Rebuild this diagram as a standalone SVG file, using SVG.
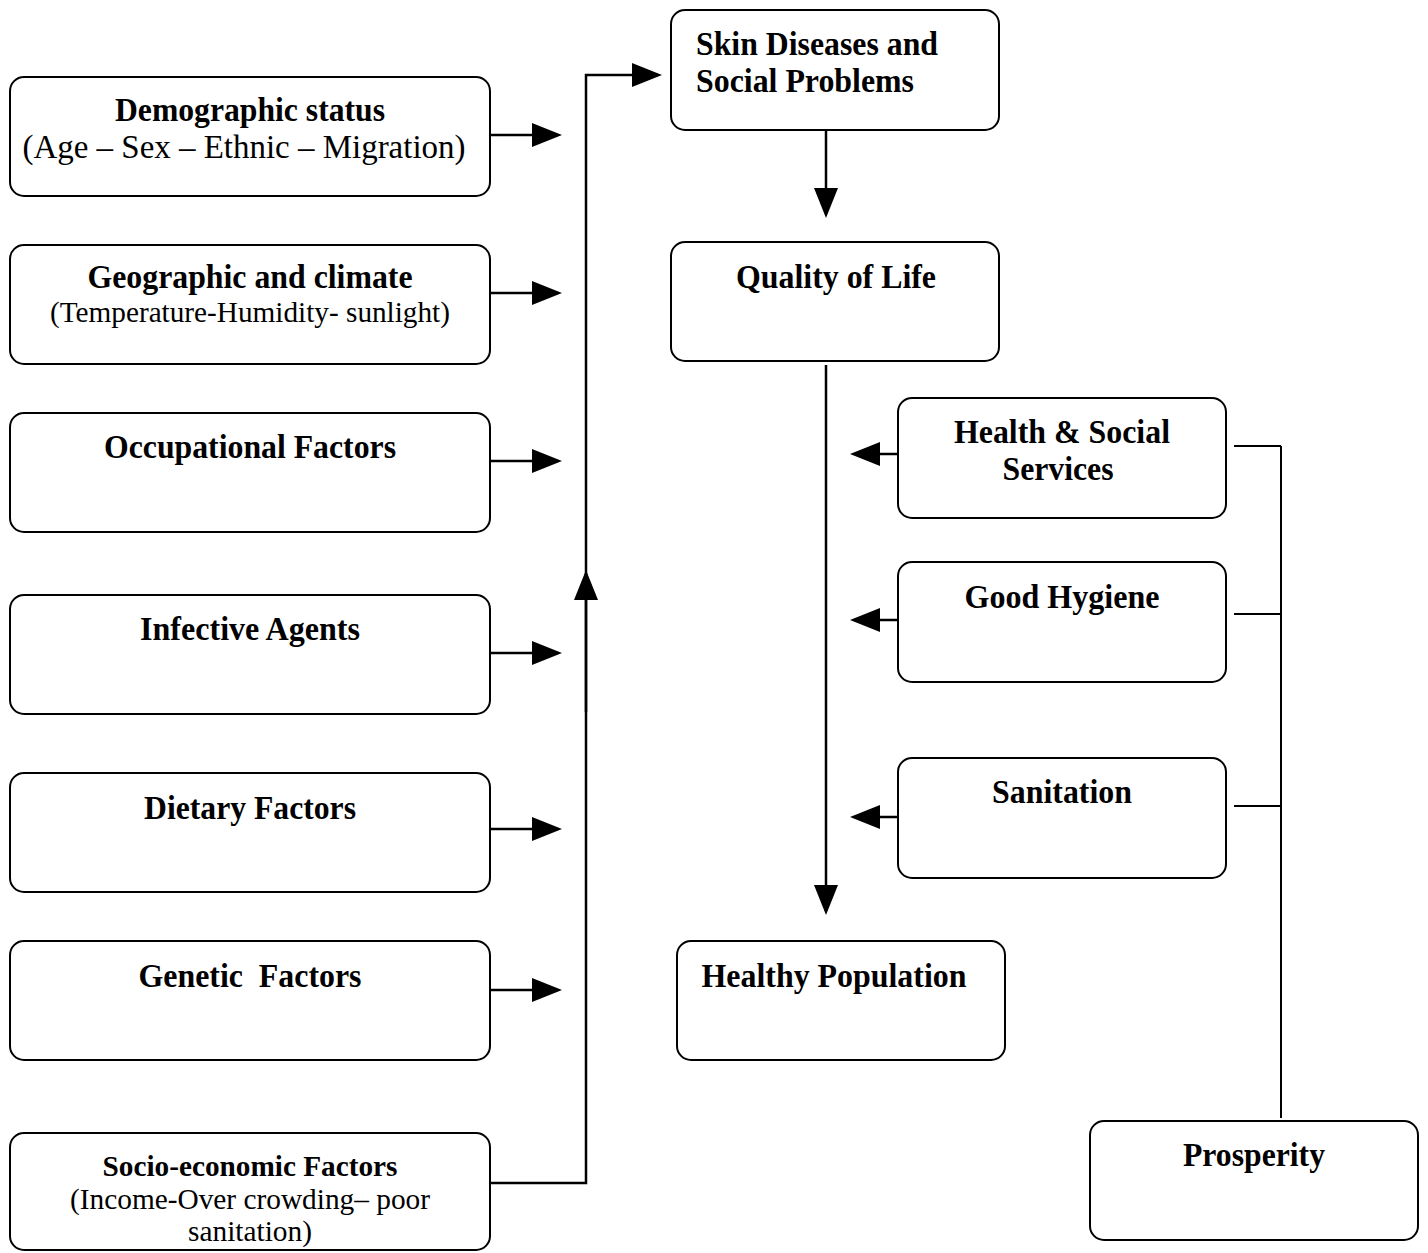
<svg xmlns="http://www.w3.org/2000/svg" width="1428" height="1253" viewBox="0 0 1428 1253">
<style>
.box{fill:#fff;stroke:#000;stroke-width:2}
.t{font-family:"Liberation Serif","Times New Roman",serif;font-weight:bold;font-size:34px;fill:#000}
.s{font-family:"Liberation Serif","Times New Roman",serif;font-size:33px;fill:#000}
.sm{font-size:30px}
.xs{font-size:29px}
.c{fill:none;stroke:#000;stroke-width:2.5}
.b{fill:none;stroke:#000;stroke-width:2}
</style>
<defs>
<marker id="ah" markerUnits="userSpaceOnUse" markerWidth="30" markerHeight="24" refX="26" refY="12" orient="auto">
<path d="M0,0 L30,12 L0,24 z" fill="#000"/>
</marker>
</defs>
<rect width="1428" height="1253" fill="#fff"/>
<g id="connectors">
<path class="c" d="M490,135 H558" marker-end="url(#ah)"/>
<path class="c" d="M490,293 H558" marker-end="url(#ah)"/>
<path class="c" d="M490,461 H558" marker-end="url(#ah)"/>
<path class="c" d="M490,653 H558" marker-end="url(#ah)"/>
<path class="c" d="M490,829 H558" marker-end="url(#ah)"/>
<path class="c" d="M490,990 H558" marker-end="url(#ah)"/>
<path class="c" d="M490,1183 H586 V75 H658" marker-end="url(#ah)"/>
<path class="c" d="M586,712 V574" marker-end="url(#ah)"/>
<path class="c" d="M826,130 V214" marker-end="url(#ah)"/>
<path class="c" d="M826,365 V911" marker-end="url(#ah)"/>
<path class="c" d="M898,454 H854" marker-end="url(#ah)"/>
<path class="c" d="M898,620 H854" marker-end="url(#ah)"/>
<path class="c" d="M898,817 H854" marker-end="url(#ah)"/>
<path class="b" d="M1234,446 H1281 M1234,614 H1281 M1234,806 H1281 M1281,446 V1118"/>
</g>
<g id="demographic">
<rect class="box" x="10" y="77" width="480" height="119" rx="14"/>
<text class="t" x="250" y="121" text-anchor="middle" textLength="270" lengthAdjust="spacingAndGlyphs">Demographic status</text>
<text class="s" x="244" y="158" text-anchor="middle" textLength="443" lengthAdjust="spacingAndGlyphs">(Age – Sex – Ethnic – Migration)</text>
</g>
<g id="geographic">
<rect class="box" x="10" y="245" width="480" height="119" rx="14"/>
<text class="t" x="250" y="288" text-anchor="middle" textLength="325" lengthAdjust="spacingAndGlyphs">Geographic and climate</text>
<text class="s xs" x="250" y="322" text-anchor="middle" textLength="400" lengthAdjust="spacingAndGlyphs">(Temperature-Humidity- sunlight)</text>
</g>
<g id="occupational">
<rect class="box" x="10" y="413" width="480" height="119" rx="14"/>
<text class="t" x="250" y="458" text-anchor="middle" textLength="292" lengthAdjust="spacingAndGlyphs">Occupational Factors</text>
</g>
<g id="infective">
<rect class="box" x="10" y="595" width="480" height="119" rx="14"/>
<text class="t" x="250" y="640" text-anchor="middle" textLength="220" lengthAdjust="spacingAndGlyphs">Infective Agents</text>
</g>
<g id="dietary">
<rect class="box" x="10" y="773" width="480" height="119" rx="14"/>
<text class="t" x="250" y="819" text-anchor="middle" textLength="212" lengthAdjust="spacingAndGlyphs">Dietary Factors</text>
</g>
<g id="genetic">
<rect class="box" x="10" y="941" width="480" height="119" rx="14"/>
<text class="t" x="250" y="987" text-anchor="middle" textLength="223" lengthAdjust="spacingAndGlyphs" xml:space="preserve">Genetic  Factors</text>
</g>
<g id="socioeconomic">
<rect class="box" x="10" y="1133" width="480" height="117" rx="14"/>
<text class="t xs" x="250" y="1176" text-anchor="middle" textLength="295" lengthAdjust="spacingAndGlyphs">Socio-economic Factors</text>
<text class="s xs" x="250" y="1209" text-anchor="middle" textLength="360" lengthAdjust="spacingAndGlyphs">(Income-Over crowding– poor</text>
<text class="s xs" x="250" y="1241" text-anchor="middle" textLength="124" lengthAdjust="spacingAndGlyphs">sanitation)</text>
</g>
<g id="skin">
<rect class="box" x="671" y="10" width="328" height="120" rx="14"/>
<text class="t" x="696" y="55" textLength="242" lengthAdjust="spacingAndGlyphs">Skin Diseases and</text>
<text class="t" x="696" y="92" textLength="218" lengthAdjust="spacingAndGlyphs">Social Problems</text>
</g>
<g id="quality">
<rect class="box" x="671" y="242" width="328" height="119" rx="14"/>
<text class="t" x="836" y="288" text-anchor="middle" textLength="200" lengthAdjust="spacingAndGlyphs">Quality of Life</text>
</g>
<g id="health">
<rect class="box" x="898" y="398" width="328" height="120" rx="14"/>
<text class="t" x="1062" y="443" text-anchor="middle" textLength="216" lengthAdjust="spacingAndGlyphs">Health &amp; Social</text>
<text class="t" x="1058" y="480" text-anchor="middle" textLength="111" lengthAdjust="spacingAndGlyphs">Services</text>
</g>
<g id="hygiene">
<rect class="box" x="898" y="562" width="328" height="120" rx="14"/>
<text class="t" x="1062" y="608" text-anchor="middle" textLength="195" lengthAdjust="spacingAndGlyphs">Good Hygiene</text>
</g>
<g id="sanitation">
<rect class="box" x="898" y="758" width="328" height="120" rx="14"/>
<text class="t" x="1062" y="803" text-anchor="middle" textLength="140" lengthAdjust="spacingAndGlyphs">Sanitation</text>
</g>
<g id="healthy">
<rect class="box" x="677" y="941" width="328" height="119" rx="14"/>
<text class="t" x="834" y="987" text-anchor="middle" textLength="265" lengthAdjust="spacingAndGlyphs">Healthy Population</text>
</g>
<g id="prosperity">
<rect class="box" x="1090" y="1121" width="328" height="119" rx="14"/>
<text class="t" x="1254" y="1166" text-anchor="middle" textLength="142" lengthAdjust="spacingAndGlyphs">Prosperity</text>
</g>
</svg>
